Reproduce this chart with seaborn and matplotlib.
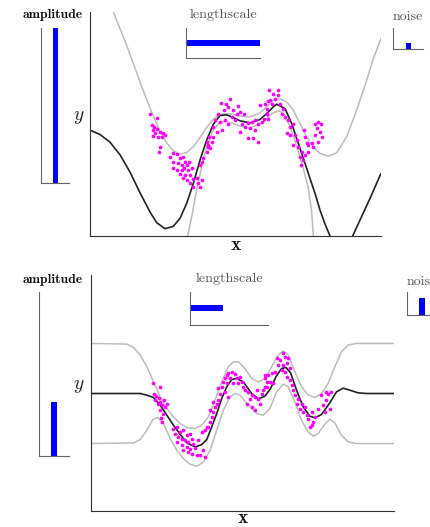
import matplotlib
matplotlib.use("Agg")
import matplotlib.pyplot as plt
import seaborn as sns
import numpy as np
import pandas as pd

# ---------------- data ----------------
# Top panel: mean and band curves
top_mean_x = [0, 3, 6, 9, 12, 15, 18, 20, 22.5, 25, 27, 29, 31, 33, 35, 37, 39, 41, 43, 45, 48, 51, 53, 55, 56, 58.5, 60.5, 62.5, 64.5, 66, 67.5, 69, 70.5, 72, 73.5, 75.5, 77.2, 78.8, 81, 84, 87.3]
top_mean_y = [31.8, 30.5, 28.2, 24.4, 19.2, 13.0, 7.2, 4.0, 2.2, 2.9, 5.3, 9.8, 15.8, 22.8, 28.8, 33.6, 36.2, 36.4, 35.6, 34.6, 34.0, 35.0, 36.8, 38.8, 39.6, 38.3, 33.8, 27.8, 21.8, 17.3, 12.8, 7.8, 3.6, 0.0, -2.7, -4.0, -2.7, 0.0, 4.8, 11.3, 18.8]

top_upper_x = [5, 7, 9, 11, 13, 15, 17, 19, 21, 23, 25, 27, 29, 31, 33, 35, 37, 39, 41, 43, 45, 48, 51, 53, 55, 57, 59, 61, 63, 65, 67, 69, 71.5, 74, 77, 80, 83, 85, 87.3]
top_upper_y = [76.8, 67.3, 62.3, 57.3, 51.8, 46.3, 41.0, 36.0, 31.6, 28.0, 25.6, 24.6, 25.1, 26.8, 29.6, 32.6, 35.1, 36.5, 36.8, 36.5, 36.0, 35.8, 37.0, 38.8, 40.6, 41.3, 40.3, 37.8, 33.8, 29.8, 26.8, 24.8, 24.0, 25.0, 29.8, 37.8, 46.8, 53.3, 59.3]

top_lower_x = [28.8, 29.3, 30.5, 32, 33.5, 35, 37, 39, 41, 43, 45, 48, 51, 53, 55, 56.8, 58.2, 60, 62, 64, 65.5, 66.5, 67, 67.3]
top_lower_y = [-5.2, 0.0, 5.8, 13.8, 20.8, 26.8, 32.0, 34.2, 34.4, 33.8, 33.0, 32.5, 33.6, 35.3, 37.0, 37.6, 36.6, 33.0, 27.0, 20.3, 14.3, 7.3, 0.0, -5.2]

top_obs_x = [18.0, 20.2, 18.5, 19.2, 18.8, 20.0, 19.5, 21.0, 22.0, 22.5, 20.5, 19.0, 21.5, 21.0, 20.8,
             24.8, 26.0, 24.0, 27.0, 28.0, 25.0, 26.5, 28.5, 29.8, 27.5, 29.0, 25.0, 26.0, 27.5, 28.2,
             29.5, 30.5, 27.0, 28.5, 30.0, 27.8, 29.0, 31.0, 32.0, 33.5, 30.0, 32.5, 31.0, 33.0, 34.0,
             33.5, 33.0, 35.0, 35.5, 35.0, 35.7,
             39.3, 40.7, 42.0, 41.5, 40.3, 43.0, 44.5, 44.0, 45.0, 46.3, 38.5, 37.5, 39.0, 40.5, 41.5,
             39.5, 38.0, 37.0, 36.5, 35.5, 36.0, 47.5, 48.5, 49.5, 50.5, 51.5, 52.3, 53.0, 51.0, 52.5,
             53.5, 46.5, 48.0, 49.5, 45.0, 49.0, 50.5, 47.5, 45.5, 43.5, 42.5, 37.0,
             53.7, 55.0, 56.3, 56.5, 55.5, 54.0, 54.5, 53.0, 53.0, 53.5, 57.0, 58.0, 57.5, 58.5, 59.5,
             60.0, 61.0, 59.0, 60.0, 61.5, 62.0, 61.0, 62.5, 63.5, 64.5, 63.0, 65.0, 65.5, 64.5, 67.5,
             68.5, 69.3, 68.0, 69.0, 67.5, 69.7, 68.5, 66.5, 67.0, 65.5, 64.0, 63.3, 64.3]
top_obs_y = [36.6, 35.6, 33.3, 32.8, 31.8, 32.0, 30.8, 31.3, 30.8, 30.3, 29.8, 30.0, 29.6, 26.8, 25.3,
             25.0, 24.6, 23.6, 23.3, 23.8, 22.3, 22.0, 22.3, 22.3, 21.3, 21.3, 20.3, 19.8, 19.8, 20.3,
             19.8, 20.3, 18.6, 18.3, 18.3, 17.3, 16.8, 17.0, 17.3, 16.8, 15.8, 15.8, 14.6, 14.6, 23.3,
             22.3, 21.3, 25.3, 26.8, 28.3, 29.8,
             40.0, 39.6, 41.3, 38.8, 37.8, 38.0, 39.0, 36.8, 37.3, 36.8, 36.8, 34.8, 34.3, 34.8, 33.8,
             31.8, 31.3, 29.8, 28.3, 27.3, 26.3, 34.0, 34.3, 35.0, 33.8, 34.3, 35.3, 36.8, 39.3, 39.8,
             40.6, 32.8, 32.3, 31.8, 31.3, 29.3, 28.3, 29.3, 33.8, 34.8, 35.8, 32.8,
             43.8, 42.8, 44.0, 42.3, 41.3, 40.8, 39.8, 38.3, 36.8, 35.3, 39.8, 38.3, 36.8, 35.8, 34.8,
             32.8, 33.8, 30.8, 30.3, 30.3, 28.8, 27.3, 26.8, 25.3, 24.3, 23.8, 27.8, 27.3, 29.8, 33.8,
             34.3, 33.8, 32.3, 31.3, 30.3, 29.8, 28.3, 27.8, 26.8, 25.3, 22.8, 21.3, 31.8]

# Bottom panel
bot_mean_x = [0, 14.8, 16.8, 18.8, 20.8, 22.8, 24.8, 26.8, 28.8, 31.3, 33.3, 34.8, 36.3, 37.8, 39.3, 40.8, 42.3, 43.8, 45.8, 48.3, 50.3, 52.3, 54.0, 55.6, 57.3, 58.6, 60.0, 61.8, 63.8, 65.8, 67.3, 69.3, 71.8, 73.8, 75.8, 77.8, 80.3, 82.8, 91.1]
bot_mean_y = [35.2, 35.2, 34.7, 34.0, 31.7, 28.7, 25.7, 23.0, 20.4, 19.2, 19.9, 21.4, 25.2, 29.2, 33.7, 37.2, 39.4, 39.7, 38.7, 35.2, 33.6, 34.4, 36.7, 40.2, 42.7, 43.0, 41.4, 36.2, 31.2, 28.4, 27.9, 28.9, 32.4, 35.7, 36.8, 36.2, 35.4, 35.2, 35.2]

bot_upper_x = [0, 10.8, 12.8, 14.8, 16.8, 18.8, 20.8, 22.8, 24.8, 26.8, 28.8, 31.3, 33.3, 35.3, 37.3, 39.3, 41.3, 42.8, 44.3, 46.3, 48.3, 50.3, 52.3, 54.3, 56.3, 57.8, 59.3, 61.3, 63.3, 65.3, 67.3, 69.3, 71.3, 73.3, 75.3, 77.3, 79.8, 91.1]
bot_upper_y = [50.2, 50.0, 49.0, 46.7, 43.2, 38.7, 34.2, 30.7, 28.2, 26.2, 25.0, 24.7, 25.7, 28.2, 33.2, 38.7, 43.2, 44.7, 44.7, 42.7, 39.7, 38.7, 39.7, 43.2, 46.7, 48.0, 46.7, 41.7, 37.2, 34.7, 34.0, 35.2, 38.2, 43.2, 47.7, 49.7, 50.2, 50.2]

bot_lower_x = [0, 12.8, 14.8, 16.8, 18.6, 20.0, 21.8, 23.8, 25.8, 27.8, 29.8, 31.8, 33.8, 35.8, 37.8, 39.8, 41.8, 43.3, 44.8, 47.3, 49.8, 51.8, 53.8, 55.8, 57.8, 59.3, 61.3, 63.3, 65.3, 66.8, 68.3, 70.3, 71.8, 73.3, 75.3, 77.3, 79.8, 91.1]
bot_lower_y = [20.2, 20.4, 21.4, 24.2, 27.4, 28.0, 26.2, 21.7, 18.2, 15.7, 14.0, 13.4, 14.7, 18.2, 24.2, 30.2, 34.2, 35.2, 34.7, 31.7, 29.2, 28.7, 30.7, 35.7, 38.0, 37.2, 32.7, 27.2, 23.7, 22.4, 23.2, 26.0, 27.5, 26.4, 22.7, 20.7, 20.2, 20.2]

bot_obs_x = [18.6, 20.8, 18.8, 19.6, 20.3, 19.3, 20.8, 21.8, 20.0, 21.3, 22.3, 22.8, 20.6, 21.6, 21.0,
             21.3, 24.8, 25.8, 25.3, 26.8, 27.8, 26.3, 27.3, 28.8, 29.8, 28.3, 29.3, 30.3, 25.8, 27.3,
             28.8, 29.8, 30.8, 31.3, 29.3, 30.3, 31.8, 32.8, 33.8, 34.3, 33.3, 34.3, 34.8, 32.3, 27.8,
             35.3, 35.8, 36.3, 36.8, 37.3, 37.8, 38.3, 38.8, 38.3, 39.3, 39.8, 40.3, 40.8, 41.3, 42.3,
             43.3, 41.8, 43.8, 44.8, 40.8, 42.8, 44.3, 45.3, 45.8, 46.3, 47.3, 48.3, 47.8, 49.3, 50.3,
             51.3, 51.8, 52.3, 49.8, 46.8, 48.3, 49.3, 50.8, 52.8, 52.3, 41.3, 40.3, 36.8, 35.8,
             55.8, 56.8, 57.8, 58.3, 59.3, 56.3, 57.8, 58.8, 57.3, 58.3, 59.8, 55.3, 54.3, 53.3, 52.3,
             53.8, 52.8, 54.8, 58.8, 59.8, 60.3, 60.8, 61.3, 62.3, 61.8, 63.3, 62.8, 64.3, 63.8, 64.8,
             65.3, 66.3, 66.8, 67.3, 68.3, 69.8, 70.8, 71.3, 72.3, 70.8, 69.3, 70.3, 71.8, 66.3, 65.8]
bot_obs_y = [38.4, 37.0, 35.0, 34.4, 34.0, 33.4, 32.7, 33.2, 32.2, 31.7, 31.2, 32.2, 30.4, 29.2, 28.0,
             26.7, 24.7, 25.2, 23.2, 23.7, 24.2, 22.2, 21.7, 22.7, 23.2, 21.2, 20.7, 21.7, 20.7, 19.7,
             19.2, 18.7, 20.2, 19.0, 17.7, 17.2, 16.7, 16.7, 18.2, 16.2, 23.7, 24.2, 25.2, 21.2, 18.2,
             25.2, 26.7, 28.2, 29.7, 31.2, 32.2, 33.2, 35.2, 36.7, 37.2, 38.7, 39.7, 40.7, 41.2, 41.7,
             41.0, 39.7, 39.7, 40.2, 38.2, 38.2, 38.2, 38.7, 37.2, 36.2, 35.7, 34.7, 33.7, 34.2, 33.7,
             35.2, 36.2, 37.2, 36.2, 32.2, 31.2, 30.2, 32.2, 38.7, 40.7, 34.2, 35.7, 32.7, 30.2,
             45.7, 45.2, 47.2, 46.2, 45.7, 43.7, 43.7, 44.2, 42.2, 41.7, 42.7, 41.7, 41.2, 40.7, 39.7,
             38.7, 37.2, 38.2, 40.2, 39.2, 37.7, 36.2, 34.7, 33.7, 32.2, 32.2, 30.7, 31.2, 29.7, 28.7,
             27.7, 29.7, 26.7, 28.2, 30.7, 31.7, 33.2, 35.2, 35.7, 35.7, 34.7, 29.7, 30.7, 25.7, 25.2]

# Hyperparameter bars (relative magnitudes)
amplitude = [1.0, 0.33]
lengthscale = [1.0, 0.42]
noise = [0.29, 0.75]
param_labels = ["amplitude", "lengthscale", "noise"]

# ---------------- styling ----------------
sns.set_theme(style="white")
plt.rcParams["font.family"] = ["cmr10", "DejaVu Serif"]
plt.rcParams["mathtext.fontset"] = "cm"
plt.rcParams["axes.unicode_minus"] = False

W, H = 431, 527
fig = plt.figure(figsize=(W / 100, H / 100), dpi=100)


def box(x0, y0, x1, y1):
    return [x0 / W, 1 - y1 / H, (x1 - x0) / W, (y1 - y0) / H]


SPINE = "#333333"
ISPINE = "#666666"
GREY = "#bcbcbc"
BLACK = "#222222"
MAG = "#ff00ff"
BLUE = "#0000ff"


def style_axes(ax, color, lw):
    for s in ["top", "right"]:
        ax.spines[s].set_visible(False)
    for s in ["left", "bottom"]:
        ax.spines[s].set_color(color)
        ax.spines[s].set_linewidth(lw)
    ax.set_xticks([])
    ax.set_yticks([])
    ax.set_xlabel("")
    ax.set_ylabel("")
    ax.set_facecolor("none")


def main_panel(rect, xlim, ylim, mx, my, ux, uy, lx, ly, ox, oy):
    ax = fig.add_axes(rect)
    sns.lineplot(x=ux, y=uy, ax=ax, color=GREY, lw=1.1, sort=False, estimator=None)
    sns.lineplot(x=lx, y=ly, ax=ax, color=GREY, lw=1.1, sort=False, estimator=None)
    sns.lineplot(x=mx, y=my, ax=ax, color=BLACK, lw=1.2, sort=False, estimator=None)
    sns.scatterplot(x=ox, y=oy, ax=ax, color=MAG, s=7, linewidth=0, zorder=3)
    ax.set_xlim(*xlim)
    ax.set_ylim(*ylim)
    style_axes(ax, SPINE, 0.8)
    return ax


def vbar(rect, xpos, width, value):
    ax = fig.add_axes(rect)
    ax.bar([xpos], [value], width=width, color=BLUE, linewidth=0)
    ax.set_xlim(0, 1)
    ax.set_ylim(0, 1)
    style_axes(ax, ISPINE, 0.8)
    return ax


def hbar(rect, ypos, height, value):
    ax = fig.add_axes(rect)
    ax.barh([ypos], [value], height=height, color=BLUE, linewidth=0)
    ax.set_xlim(0, 1)
    ax.set_ylim(0, 1)
    style_axes(ax, ISPINE, 0.8)
    return ax


# ---- top panel ----
main_panel(box(90, 12, 381, 236), (0, 87.3), (0, 67.3),
           top_mean_x, top_mean_y, top_upper_x, top_upper_y,
           top_lower_x, top_lower_y, top_obs_x, top_obs_y)
vbar(box(41, 28, 69, 183), 0.52, 0.18, amplitude[0])
hbar(box(186, 28, 260, 58), 0.5, 0.2, lengthscale[0])
vbar(box(393, 28, 423, 49), 0.52, 0.17, noise[0])

# ---- bottom panel ----
main_panel(box(91, 275, 394, 511), (0, 91.1), (0, 70.7),
           bot_mean_x, bot_mean_y, bot_upper_x, bot_upper_y,
           bot_lower_x, bot_lower_y, bot_obs_x, bot_obs_y)
vbar(box(39, 292, 69, 456), 0.5, 0.19, amplitude[1])
hbar(box(190, 292, 268, 325), 0.52, 0.17, lengthscale[1])
vbar(box(407, 292, 437, 315), 0.5, 0.2, noise[1])


def ftext(x, y, s, **kw):
    fig.text(x / W, 1 - y / H, s, ha="center", va="center", **kw)


BOLD = ["cmb10", "DejaVu Serif"]

# labels top
ftext(53, 15, param_labels[0], fontsize=9.8, family=BOLD, color="#111111")
ftext(223, 15, param_labels[1], fontsize=10.2, color="#555555")
ftext(408, 17, param_labels[2], fontsize=10, color="#555555")
ftext(79, 117, r"$y$", fontsize=14, color="#222222")
ftext(236, 245, r"$\mathbf{x}$", fontsize=14, color="#111111")

# labels bottom (the right label runs off the edge, as in the source)
ftext(53, 280, param_labels[0], fontsize=9.8, family=BOLD, color="#111111")
ftext(229, 279, param_labels[1], fontsize=10.2, color="#555555")
ftext(422, 282, param_labels[2], fontsize=10, color="#555555")
ftext(79, 386, r"$y$", fontsize=14, color="#222222")
ftext(243, 518, r"$\mathbf{x}$", fontsize=14, color="#111111")

fig.savefig("out.png", dpi=100)
